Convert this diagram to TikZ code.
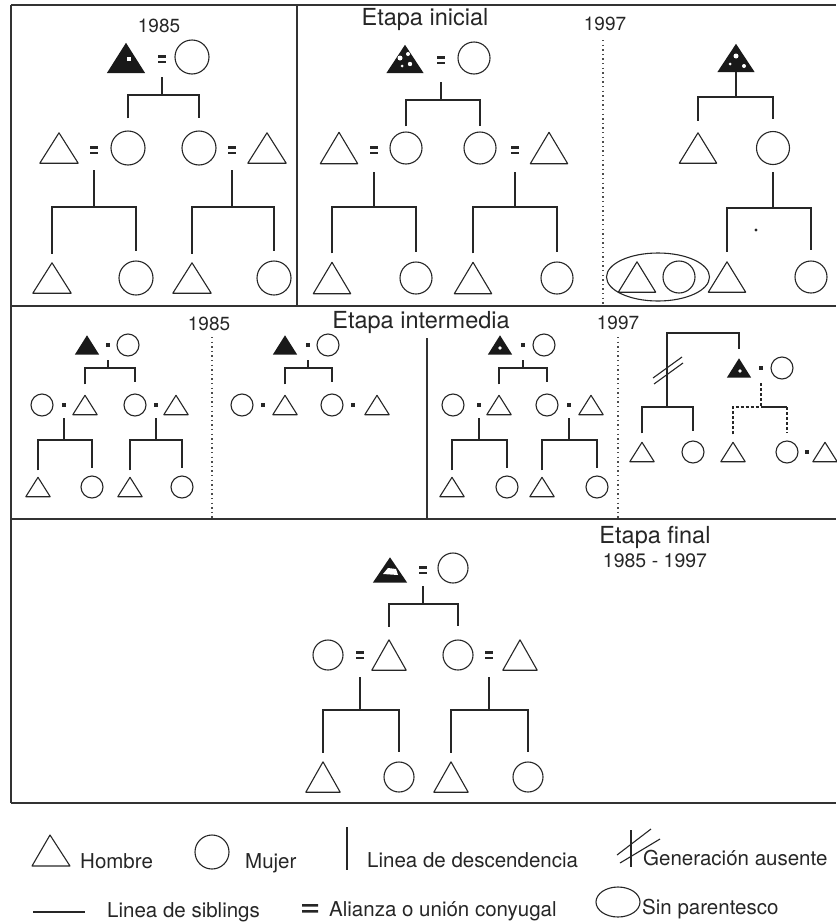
\documentclass[tikz,border=0pt]{standalone}
\usepackage{fontspec}
\setmainfont{TeX Gyre Heros}
\usetikzlibrary{shapes.geometric}
\newcommand\Man[3][]{\node[inner sep=0pt,#1] (#2) at #3 {};\draw[ln,line join=round] (#2.south west) -- (#2.south east) -- (#2.north) -- cycle;}
\newcommand\Ego[3][]{\node[inner sep=0pt,#1] (#2) at #3 {};\fill[black!90,line join=round] (#2.south west) -- (#2.south east) -- (#2.north) -- cycle;}
\newcommand\Wom[3]{\node[woman,minimum size=#1] (#2) at #3 {};}
\newcommand\Meq[2]{\node[inner sep=0pt,minimum width=8pt,minimum height=7pt] (#1) at #2 {};\fill[black!85] (#1.north west) rectangle ++(8,2.2);\fill[black!85] (#1.south west) rectangle ++(8,-2.2);}
\newcommand\Mdot[2]{\node[fill=black!85,inner sep=0pt,minimum size=4.5pt] (#1) at #2 {};}
\newcommand\Sib[5][]{\draw[ln,#1] ([yshift=#5]#2.north) -- (#2.north |- 0,#4) -- (#3.north |- 0,#4) -- ([yshift=#5]#3.north);}
\newcommand\Desc[4][]{\draw[ln,#1] (#2 |- 0,#3) -- (#2 |- 0,#4);}
\begin{document}
\begin{tikzpicture}[x=1pt,y=-1pt,
  ln/.style={line width=1.1pt,draw=black!85},
  framel/.style={line width=1.3pt,draw=black!80},
  dotl/.style={line width=1.4pt,draw=black!70,dash pattern=on 1.4pt off 3.2pt},
  dashl/.style={dash pattern=on 3pt off 2pt},
  woman/.style={circle,draw=black!85,line width=1.1pt,inner sep=0pt},
  TA/.style={minimum width=38pt,minimum height=30pt},
  TS/.style={minimum width=24pt,minimum height=19pt},
  TF/.style={minimum width=34pt,minimum height=30pt},
  lab/.style={inner sep=0pt,anchor=base,text=black!85},
  leg/.style={inner sep=0pt,anchor=base west,text=black!85,font=\fontsize{20.5}{22}\selectfont}]
\useasboundingbox (0,0) rectangle (836,924);
% ---------- frames ----------
\draw[framel] (11,5) -- (836,5);
\draw[framel] (11,306) -- (836,306);
\draw[framel] (11,519) -- (836,519);
\draw[framel] (11,803) -- (836,803);
\draw[framel] (11,5) -- (11,803);
\draw[framel] (297,5) -- (297,306);
\draw[framel] (427,338) -- (427,519);
\draw[dotl] (603,40) -- (603,306);
\draw[dotl] (212,337) -- (212,519);
\draw[dotl] (618,337) -- (618,519);
% ---------- labels ----------
\node[lab,font=\fontsize{19}{20}\selectfont] (t1) at (159,32) {1985};
\node[lab,font=\fontsize{23.5}{25}\selectfont] (t2) at (425,25) {Etapa inicial};
\node[lab,font=\fontsize{19}{20}\selectfont] (t3) at (605,30) {1997};
\node[lab,font=\fontsize{19}{20}\selectfont] (t4) at (209,330) {1985};
\node[lab,font=\fontsize{23.5}{25}\selectfont] (t5) at (421,328) {Etapa intermedia};
\node[lab,font=\fontsize{19}{20}\selectfont] (t6) at (618,329) {1997};
\node[lab,font=\fontsize{23.5}{25}\selectfont] (t7) at (655,543) {Etapa final};
\node[lab,font=\fontsize{19.5}{21}\selectfont] (t8) at (655,567) {1985 - 1997};
% ---------- top panel A ----------
\Ego[TA]{a0}{(126,58)}
\fill[white] (127,57) rectangle (131,61);
\Meq{aE}{(162,59)}
\Wom{34pt}{a1}{(192,57)}
\Man[TA]{a2}{(59,148)}
\Meq{aE2}{(94,150)}
\Wom{34pt}{a3}{(128,148)}
\Wom{34pt}{a4}{(199,148)}
\Meq{aE3}{(232,150)}
\Man[TA]{a5}{(267,148)}
\Man[TA]{a6}{(52,278)}
\Wom{34pt}{a7}{(136,278)}
\Man[TA]{a8}{(192,278)}
\Wom{34pt}{a9}{(274,278)}
\Desc{aE}{77}{95}
\Sib{a3}{a4}{95}{12pt}
\Desc{aE2}{170}{207}
\Sib{a6}{a7}{207}{9pt}
\Desc{aE3}{170}{207}
\Sib{a8}{a9}{207}{9pt}
% ---------- top panel B ----------
\Ego[minimum width=37pt,minimum height=28pt]{b0}{(405,59)}
\fill[white] (400,58) circle (2.5) (408,54) circle (2) (410,64) circle (2.2) (402,66) circle (1.5);
\Meq{bE}{(441,60)}
\Wom{32pt}{b1}{(474,58)}
\Man[minimum width=37pt,minimum height=31pt]{b2}{(339,148)}
\Meq{bE2}{(374,150)}
\Wom{32pt}{b3}{(406,148)}
\Wom{32pt}{b4}{(480,148)}
\Meq{bE3}{(515,150)}
\Man[minimum width=37pt,minimum height=31pt]{b5}{(549,148)}
\Man[minimum width=37pt,minimum height=31pt]{b6}{(332,278)}
\Wom{32pt}{b7}{(416,278)}
\Man[minimum width=37pt,minimum height=31pt]{b8}{(473,278)}
\Wom{32pt}{b9}{(557,278)}
\Desc{bE}{82}{100}
\Sib{b3}{b4}{100}{5pt}
\Desc{bE2}{172}{207}
\Sib{b6}{b7}{207}{9pt}
\Desc{bE3}{172}{207}
\Sib{b8}{b9}{207}{9pt}
% ---------- top panel C ----------
\Ego[minimum width=37pt,minimum height=28pt]{c0}{(736,58)}
\fill[white] (736,56) circle (2.5) (744,66) circle (2) (730,64) circle (1.5);
\Man[minimum width=37pt,minimum height=30pt]{c1}{(698,148)}
\Wom{33pt}{c2}{(773,148)}
\node[draw=black!85,line width=1.1pt,ellipse,minimum width=103pt,minimum height=48pt,inner sep=0pt] (cE) at (658,277) {};
\Man[minimum width=37pt,minimum height=30pt]{c3}{(637,277)}
\Wom{32pt}{c4}{(679,277)}
\Man[minimum width=37pt,minimum height=30pt]{c5}{(727,277)}
\Wom{32pt}{c6}{(811,277)}
\Desc{c0}{72}{97}
\Sib{c1}{c2}{97}{12pt}
\Desc{c2}{172}{208}
\Sib{c5}{c6}{208}{10pt}
\fill[black!85] (756,230) circle (1.6);
% ---------- middle panel A ----------
\Ego[TS]{mA0}{(87,345)}
\Mdot{mAd}{(108,345)}
\Wom{22pt}{mA1}{(128,345)}
\Wom{22pt}{mA2}{(42,405)}
\Mdot{mAd2}{(64,405)}
\Man[TS]{mA3}{(85,405)}
\Wom{22pt}{mA4}{(135,405)}
\Mdot{mAd3}{(156,405)}
\Man[TS]{mA5}{(176,405)}
\Man[TS]{mA6}{(38,487)}
\Wom{22pt}{mA7}{(92,487)}
\Man[TS]{mA8}{(130,487)}
\Wom{22pt}{mA9}{(182,487)}
\Desc{mAd}{360}{368}
\Sib{mA3}{mA4}{368}{11pt}
\Desc{mAd2}{418}{440}
\Sib{mA6}{mA7}{440}{7pt}
\Desc{mAd3}{418}{440}
\Sib{mA8}{mA9}{440}{7pt}
% ---------- middle panel B ----------
\Ego[TS]{mB0}{(285,345)}
\Mdot{mBd}{(308,345)}
\Wom{22pt}{mB1}{(328,345)}
\Wom{22pt}{mB2}{(242,405)}
\Mdot{mBd2}{(263,405)}
\Man[TS]{mB3}{(285,405)}
\Wom{22pt}{mB4}{(332,405)}
\Mdot{mBd3}{(353,405)}
\Man[TS]{mB5}{(377,405)}
\Desc{mBd}{360}{368}
\Sib{mB3}{mB4}{368}{11pt}
% ---------- middle panel C ----------
\Ego[TS]{mC0}{(500,345)}
\fill[white] (500,348) circle (1.8);
\Mdot{mCd}{(523,345)}
\Wom{22pt}{mC1}{(544,345)}
\Wom{22pt}{mC2}{(453,405)}
\Mdot{mCd2}{(479,405)}
\Man[TS]{mC3}{(499,405)}
\Wom{22pt}{mC4}{(547,405)}
\Mdot{mCd3}{(569,405)}
\Man[TS]{mC5}{(591,405)}
\Man[TS]{mC6}{(452,487)}
\Wom{22pt}{mC7}{(507,487)}
\Man[TS]{mC8}{(542,487)}
\Wom{22pt}{mC9}{(597,487)}
\Desc{mCd}{360}{368}
\Sib{mC3}{mC4}{368}{11pt}
\Desc{mCd2}{418}{440}
\Sib{mC6}{mC7}{440}{7pt}
\Desc{mCd3}{418}{440}
\Sib{mC8}{mC9}{440}{7pt}
% ---------- middle panel D ----------
\Ego[TS]{mD0}{(739,368)}
\fill[white] (740,371) circle (1.8);
\Mdot{mDd}{(761,368)}
\Wom{22pt}{mD1}{(782,368)}
\Man[TS]{mD2}{(642,452)}
\Wom{22pt}{mD3}{(693,452)}
\Man[TS]{mD4}{(733,452)}
\Wom{22pt}{mD5}{(787,452)}
\Mdot{mDd2}{(807,452)}
\Man[TS]{mD6}{(825,452)}
\coordinate (mDt) at (667,407);
\Sib{mD2}{mD3}{407}{9pt}
\draw[ln] (mDt) -- (mDt |- 0,333) -- (mD0.north |- 0,333) -- ([yshift=9pt]mD0.north);
\draw[ln] (653,378) -- (682,357);
\draw[ln] (654,384) -- (683,363);
\Desc[dashl]{mDd}{383}{407}
\draw[ln,dashl] ([yshift=8pt]mD4.north) -- (mD4.north |- 0,407) -- (mDd |- 0,407);
\draw[ln] (mDd |- 0,407) -- (mD5.north |- 0,407);
\draw[ln,dashl] (mD5.north |- 0,407) -- ([yshift=8pt]mD5.north);
% ---------- bottom panel ----------
\Ego[minimum width=34pt,minimum height=25pt]{f0}{(390,570)}
\fill[white] (383,574) -- (388,568) -- (396,569) -- (398,575) -- cycle;
\Meq{fE}{(423,570)}
\Wom{30pt}{f1}{(453,568)}
\Wom{30pt}{f2}{(328,655)}
\Meq{fE2}{(360,655)}
\Man[TF]{f3}{(389,655)}
\Wom{30pt}{f4}{(458,655)}
\Meq{fE3}{(489,655)}
\Man[TF]{f5}{(520,655)}
\Man[TF]{f6}{(323,777)}
\Wom{30pt}{f7}{(399,777)}
\Man[TF]{f8}{(451,777)}
\Wom{30pt}{f9}{(528,777)}
\Desc{fE}{586}{604}
\Sib{f3}{f4}{604}{13pt}
\Desc{fE2}{677}{710}
\Sib{f6}{f7}{710}{9pt}
\Desc{fE3}{677}{710}
\Sib{f8}{f9}{710}{9pt}
% ---------- legend ----------
\draw[ln,line join=round] (32,866) -- (70,866) -- (50,835) -- cycle;
\node[leg] (l1) at (80,868) {Hombre};
\node[woman,minimum size=34pt] (lw) at (212,852) {};
\node[leg] (l2) at (245,868) {Mujer};
\draw[ln,line width=1.3pt] (347,827) -- (347,870);
\node[leg] (l3) at (367,867) {Linea de descendencia};
\draw[ln] (631,830) -- (631,867);
\draw[ln] (617,855) -- (651,829);
\draw[ln] (620,863) -- (660,839);
\node[leg] (l4) at (643,865) {Generación ausente};
\draw[ln,line width=1.3pt] (33,912) -- (85,912);
\node[leg] (l5) at (107,917) {Linea de siblings};
\fill[black!85] (302,904) rectangle (318,906.5) (302,910) rectangle (318,912.5);
\node[leg] (l6) at (329,916) {Alianza o unión conyugal};
\node[draw=black!85,line width=1.1pt,ellipse,minimum width=44pt,minimum height=30pt,inner sep=0pt] (lE) at (618,902) {};
\node[leg] (l7) at (642,914) {Sin parentesco};
\end{tikzpicture}
\end{document}
